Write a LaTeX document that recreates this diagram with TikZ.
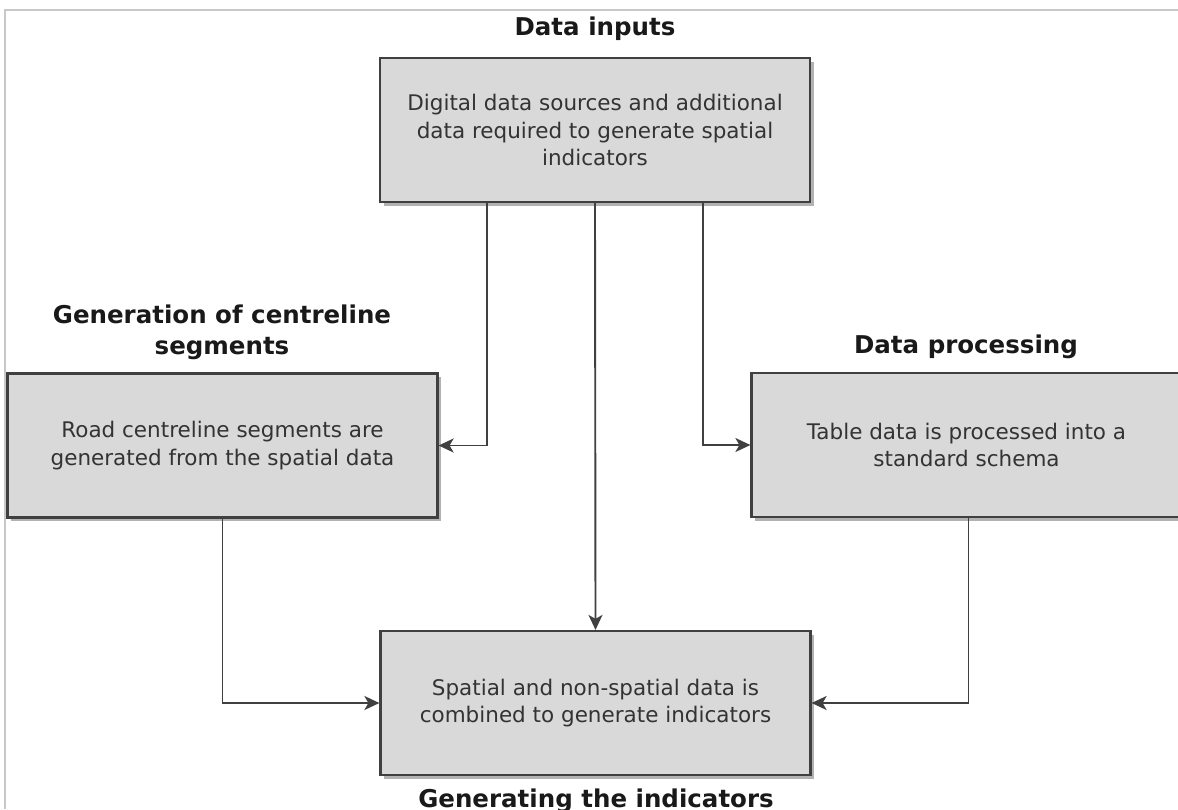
\documentclass[tikz,border=0pt]{standalone}
\usepackage{fontspec}
\setmainfont{DejaVu Sans}
\usetikzlibrary{shadows,arrows.meta}
\definecolor{boxfill}{HTML}{D9D9D9}
\definecolor{boxline}{HTML}{404040}
\definecolor{txt}{HTML}{333333}
\definecolor{frame}{HTML}{C8C8C8}
\tikzset{
  stage/.style={draw=boxline, line width=2.2pt, fill=boxfill,
    minimum width=430pt, minimum height=144pt, inner sep=0pt,
    align=center, text=txt,
    font=\fontsize{21.5}{27.5}\selectfont,
    drop shadow={shadow xshift=3.5pt, shadow yshift=-3.5pt, fill=black!30, opacity=1}},
  heading/.style={align=center, text=black!90, inner sep=0pt,
    font=\fontsize{24.5}{31}\selectfont\bfseries},
  link/.style={draw=boxline, line width=1.9pt,
    -{Stealth[length=15pt, width=14pt, inset=4pt]}}
}
\begin{document}
\begin{tikzpicture}[x=1pt, y=-1pt]
\useasboundingbox (0,0) rectangle (1178,809);
% page frame
\draw[frame, line width=2pt] (5,809) -- (5,10) -- (1178,10);

% stages
\node[stage] (inputs) at (595,130)
  {Digital data sources and additional\\data required to generate spatial\\indicators};
\node[stage] (centre) at (222.5,445.5)
  {Road centreline segments are\\generated from the spatial data};
\node[stage] (proc) at (966.5,445)
  {Table data is processed into a\\standard schema};
\node[stage] (gen) at (595.5,703)
  {Spatial and non-spatial data is\\combined to generate indicators};

% headings
\node[heading] (hinputs) at (595,29) {Data inputs};
\node[heading] (hcentre) at (222,332) {Generation of centreline\\segments};
\node[heading] (hproc) at (966,347) {Data processing};
\node[heading] (hgen) at (596,801) {Generating the indicators};

% connectors
\draw[link] ([xshift=-108pt]inputs.south) |- (centre.east);
\draw[link] (inputs.south) -- (gen.north);
\draw[link] ([xshift=108pt]inputs.south) |- (proc.west);
\draw[link] (centre.south) |- (gen.west);
\draw[link] ([xshift=2pt]proc.south) |- (gen.east);
\end{tikzpicture}
\end{document}
